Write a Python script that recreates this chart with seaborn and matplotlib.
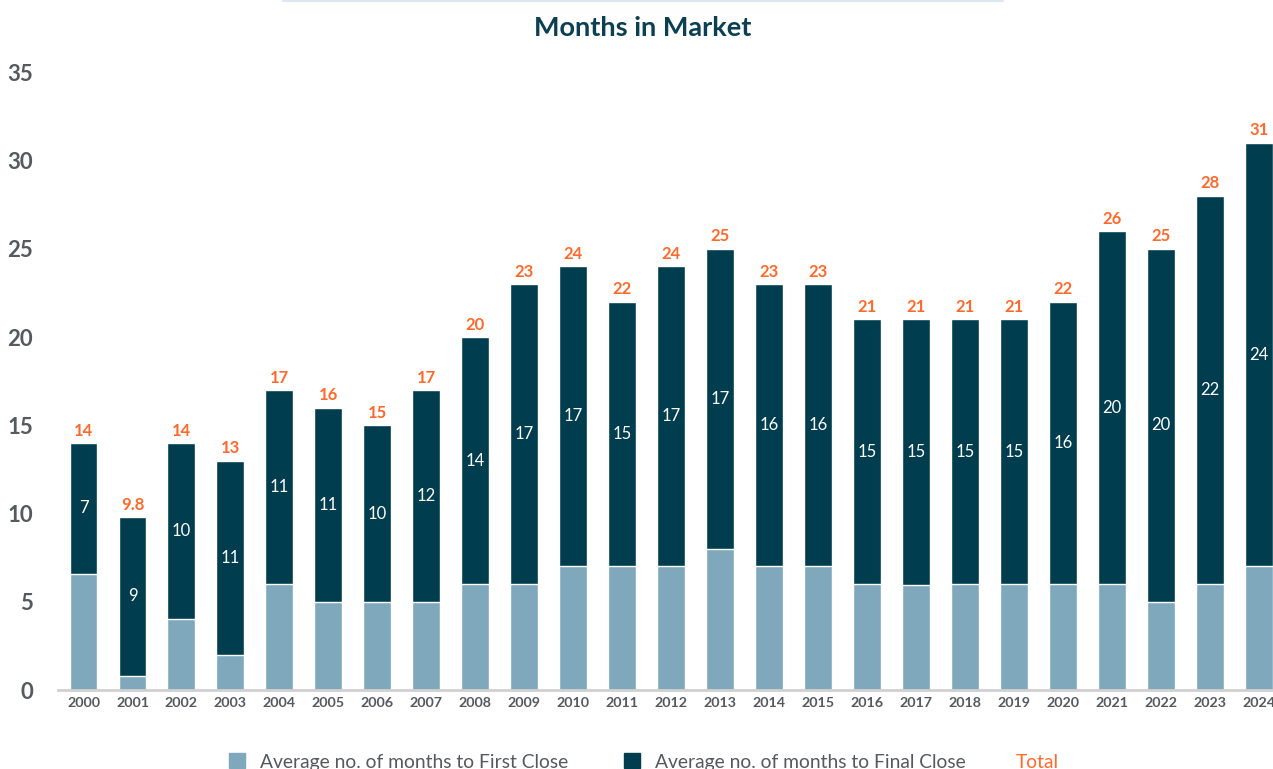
import matplotlib
matplotlib.use("Agg")
import matplotlib.pyplot as plt
import seaborn as sns
import pandas as pd
from matplotlib.patches import Patch
from matplotlib.lines import Line2D

years = [str(y) for y in range(2000, 2025)]
first_close = [6.6, 0.8, 4, 2, 6, 5, 5, 5, 6, 6, 7, 7, 7, 8, 7, 7, 6, 5.95, 6, 6, 6, 6, 5, 6, 7]
totals = [14, 9.8, 14, 13, 17, 16, 15, 17, 20, 23, 24, 22, 24, 25, 23, 23, 21, 21, 21, 21, 22, 26, 25, 28, 31]
final_labels = [7, 9, 10, 11, 11, 11, 10, 12, 14, 17, 17, 15, 17, 17, 16, 16, 15, 15, 15, 15, 16, 20, 20, 22, 24]

LIGHT = "#80a8bc"
DARK = "#003d4f"
ORANGE = "#ff6a2c"
GRAY = "#555a5e"

sns.set_theme(style="white")
plt.rcParams['font.family'] = ['Lato', 'DejaVu Sans']

df = pd.DataFrame({"year": years, "first": first_close, "total": totals})

fig = plt.figure(figsize=(12.73, 7.69), dpi=100)
ax = fig.add_axes([0.0456, 0.1027, 1 - 0.0456, 0.906 - 0.1027])

sns.barplot(data=df, x="year", y="total", color=DARK, width=0.57, saturation=1, ax=ax)
sns.barplot(data=df, x="year", y="first", color=LIGHT, width=0.57, saturation=1, ax=ax)

for i, (f, t, lab) in enumerate(zip(first_close, totals, final_labels)):
    ax.text(i, (f + t) / 2, str(lab), ha="center", va="center", color="white", fontsize=12)
    tl = f"{t:g}"
    ax.text(i, t + 0.25, tl, ha="center", va="bottom", color=ORANGE, fontsize=12, fontweight="bold")

ax.set_xlim(-0.52, 24.29)
ax.set_ylim(0, 35)
ax.set_yticks([0, 5, 10, 15, 20, 25, 30, 35])
ax.set_xlabel("")
ax.set_ylabel("")
for s in ["top", "right", "left"]:
    ax.spines[s].set_visible(False)
ax.spines["bottom"].set_color("#d0d0d0")
ax.spines["bottom"].set_linewidth(2)
ax.tick_params(axis="y", length=0, pad=18, labelsize=16, labelcolor=GRAY)
ax.tick_params(axis="x", length=0, pad=5, labelsize=10.3, labelcolor=GRAY)
for lbl in ax.get_yticklabels():
    lbl.set_fontweight("bold")
for lbl in ax.get_xticklabels():
    lbl.set_fontweight("bold")

fig.text(0.505, 1 - 28 / 769, "Months in Market", ha="center", va="center",
         fontsize=19.5, fontweight="bold", color="#0b3f52")
fig.add_artist(Line2D([283 / 1273, 1003 / 1273], [0.999, 0.999], color="#dde7ef", lw=1.5))

handles = [Patch(color=LIGHT), Patch(color=DARK)]
labels = ["Average no. of months to First Close", "Average no. of months to Final Close"]
leg = fig.legend(handles, labels, loc="center", bbox_to_anchor=(597.5 / 1273, 1 - 762 / 769), ncol=2,
                 frameon=False, fontsize=13.9, handlelength=0.8, handleheight=0.8,
                 columnspacing=2.9, handletextpad=0.8, borderpad=0, borderaxespad=0)
for t in leg.get_texts():
    t.set_color(GRAY)
fig.text(1016 / 1273, 1 - 762 / 769, "Total", ha="left", va="center", fontsize=13.9, color=ORANGE)

fig.savefig("out.png", dpi=100)
